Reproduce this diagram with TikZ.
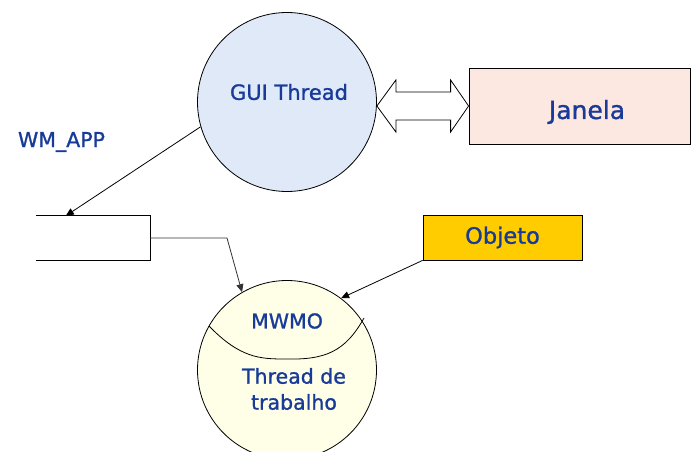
\documentclass[tikz,border=0pt]{standalone}
\usepackage{fontspec}
\usetikzlibrary{arrows.meta,calc}
\newfontfamily\dv[FakeBold=1.1]{DejaVu Sans}
\definecolor{txtblue}{RGB}{24,58,152}
\definecolor{guifill}{RGB}{223,233,247}
\definecolor{janfill}{RGB}{253,232,225}
\definecolor{wrkfill}{RGB}{255,255,232}
\definecolor{objfill}{RGB}{255,204,0}
\tikzset{
  lbl/.style={text=txtblue, font=\dv\fontsize{20.5}{26}\selectfont, inner sep=0pt},
  circ/.style={circle, draw=black, line width=0.8pt, inner sep=0pt, minimum size=179pt},
  box/.style={rectangle, draw=black, line width=0.8pt, inner sep=0pt},
  conn/.style={draw=black, line width=0.8pt, -{Triangle[length=8pt,width=7pt]}},
}
\begin{document}
\begin{tikzpicture}[x=1pt,y=-1pt]
\useasboundingbox (0,0) rectangle (691,452);
% nodes
\node[circ, fill=guifill] (gui) at (287,102) {};
\node[lbl, font=\dv\fontsize{21}{26}\selectfont] (guit) at (289,92) {GUI Thread};
\node[box, fill=janfill, minimum width=221pt, minimum height=76pt] (jan) at (579.5,106) {};
\node[lbl, font=\dv\fontsize{25}{30}\selectfont] (jant) at (587,112) {Janela};
\node[lbl] (wm) at (61.5,142) {WM\_APP};
\node[rectangle, inner sep=0pt, minimum width=114pt, minimum height=44pt] (queue) at (93,238) {};
\node[box, fill=objfill, minimum width=159pt, minimum height=45pt, text=txtblue,
      font=\dv\fontsize{22.5}{26}\selectfont] (obj) at (502.5,237.5) {Objeto};
\node[circ, fill=wrkfill] (wrk) at (287,370) {};
\node[lbl] (mwmo) at (287,321) {MWMO};
\node[lbl, align=center] (wt) at (294,389) {Thread de\\ trabalho};
% queue outline
\draw[line width=0.8pt] (queue.north west) -- (queue.north east) -- (queue.south east) -- (queue.south west);
% double arrow between GUI and Janela
\coordinate (L) at (gui.east |- jan.west);
\coordinate (R) at (jan.west);
\draw[line width=0.8pt, fill=white]
  (L) -- ($(L)+(19,-26)$) -- ($(L)+(19,-14)$) -- ($(R)+(-18,-14)$) -- ($(R)+(-18,-26)$) -- (R)
  -- ($(R)+(-18,26)$) -- ($(R)+(-18,14)$) -- ($(L)+(19,14)$) -- ($(L)+(19,26)$) -- cycle;
% connectors
\coordinate (qin) at ($(queue.north west)+(30,0)$);
\draw[conn] (gui.196) -- (qin);
\coordinate (bend) at (227,238);
\draw[conn, draw=black!80] (queue.east) -- (bend) -- (wrk.120);
\draw[conn] (obj.south west) -- (wrk.53);
% inner curve of worker circle
\draw[line width=0.8pt] (209,326) .. controls (240,358) and (260,359) .. (285,359)
  .. controls (325,360) and (345,352) .. (364,318);
\end{tikzpicture}
\end{document}
